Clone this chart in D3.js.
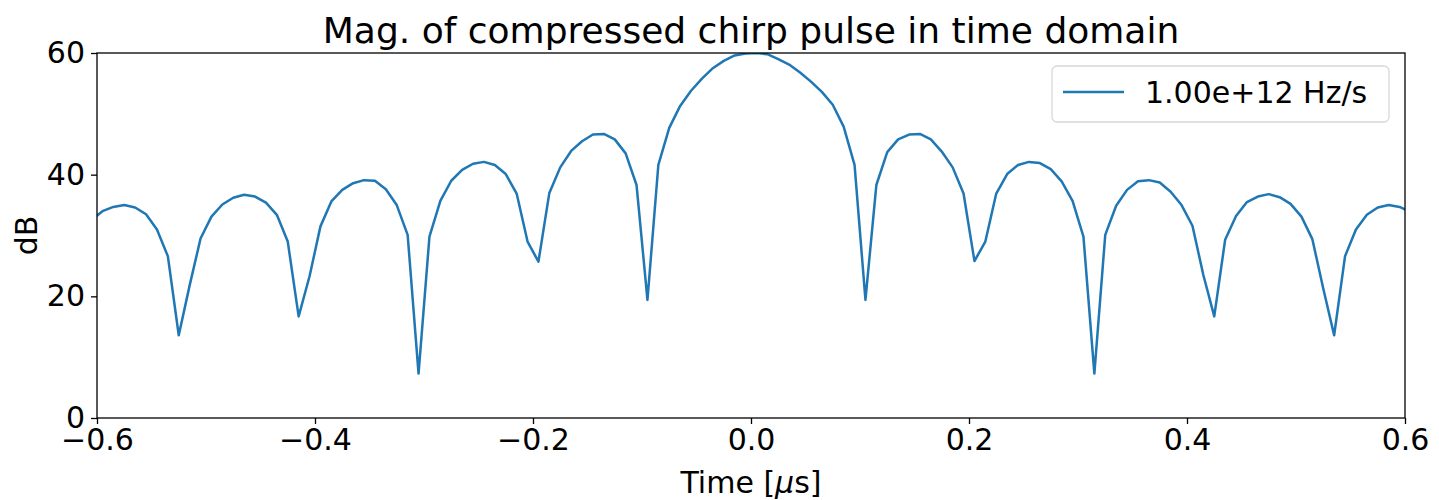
<!DOCTYPE html>
<html>
<head>
<meta charset="utf-8">
<script src="https://cdn.jsdelivr.net/npm/d3@7"></script>
<style>
  html, body { margin: 0; padding: 0; background: #fff; }
  svg { display: block; font-family: "DejaVu Sans", sans-serif; }
</style>
</head>
<body>
<svg id="chart" width="1439" height="500"></svg>
<script>
// ---- data ----
const timeUs = [
  -0.605, -0.595, -0.585, -0.575, -0.565, -0.555, -0.545, -0.535, -0.525, -0.515,
  -0.505, -0.495, -0.485, -0.475, -0.465, -0.455, -0.445, -0.435, -0.425, -0.415,
  -0.405, -0.395, -0.385, -0.375, -0.365, -0.355, -0.345, -0.335, -0.325, -0.315,
  -0.305, -0.295, -0.285, -0.275, -0.265, -0.255, -0.245, -0.235, -0.225, -0.215,
  -0.205, -0.195, -0.185, -0.175, -0.165, -0.155, -0.145, -0.135, -0.125, -0.115,
  -0.105, -0.095, -0.085, -0.075, -0.065, -0.055, -0.045, -0.035, -0.025, -0.015,
  -0.005, 0.005, 0.015, 0.025, 0.035, 0.045, 0.055, 0.065, 0.075, 0.085,
  0.095, 0.105, 0.115, 0.125, 0.135, 0.145, 0.155, 0.165, 0.175, 0.185,
  0.195, 0.205, 0.215, 0.225, 0.235, 0.245, 0.255, 0.265, 0.275, 0.285,
  0.295, 0.305, 0.315, 0.325, 0.335, 0.345, 0.355, 0.365, 0.375, 0.385,
  0.395, 0.405, 0.415, 0.425, 0.435, 0.445, 0.455, 0.465, 0.475, 0.485,
  0.495, 0.505, 0.515, 0.525, 0.535, 0.545, 0.555, 0.565, 0.575, 0.585,
  0.595, 0.605
];
const magDb = [
  32.5, 34.0, 34.7, 35.0, 34.6, 33.5, 31.0, 26.6, 13.6, 21.8,
  29.5, 33.1, 35.1, 36.2, 36.7, 36.4, 35.4, 33.4, 29.0, 16.7,
  23.3, 31.5, 35.6, 37.5, 38.6, 39.1, 39.0, 37.6, 35.0, 30.1,
  7.3, 29.8, 35.7, 39.0, 40.8, 41.8, 42.1, 41.6, 40.1, 36.9,
  29.0, 25.7, 37.0, 41.2, 43.9, 45.5, 46.6, 46.7, 45.8, 43.5,
  38.3, 19.4, 41.6, 47.7, 51.3, 53.8, 55.8, 57.5, 58.7, 59.6,
  59.9, 60.0, 59.8, 59.0, 58.1, 56.8, 55.3, 53.6, 51.5, 47.9,
  41.6, 19.4, 38.3, 43.7, 45.8, 46.6, 46.7, 45.8, 43.8, 41.2,
  36.9, 25.8, 29.0, 36.9, 40.1, 41.6, 42.1, 41.9, 40.9, 38.9,
  35.7, 29.8, 7.3, 30.1, 34.9, 37.5, 38.9, 39.1, 38.7, 37.2,
  35.0, 31.6, 23.5, 16.7, 29.3, 33.2, 35.5, 36.4, 36.8, 36.3,
  35.2, 33.1, 29.4, 21.3, 13.6, 26.6, 31.0, 33.4, 34.6, 35.0,
  34.7, 33.9
];
const xTicks = [-0.6, -0.4, -0.2, 0.0, 0.2, 0.4, 0.6];
const yTicks = [0, 20, 40, 60];
const seriesLabel = "1.00e+12 Hz/s";
const titleText = "Mag. of compressed chirp pulse in time domain";

// ---- layout ----
const svg = d3.select("#chart");
const m = { left: 97, right: 1405, top: 53, bottom: 418 };
const x = d3.scaleLinear().domain([-0.6, 0.6]).range([m.left, m.right]);
const y = d3.scaleLinear().domain([0, 60]).range([m.bottom, m.top]);
const color = "#1f77b4";
const fmtX = d => (d < 0 ? "\u2212" : "") + Math.abs(d).toFixed(1);

svg.append("defs").append("clipPath").attr("id", "clip")
  .append("rect").attr("x", m.left).attr("y", m.top)
  .attr("width", m.right - m.left).attr("height", m.bottom - m.top);

// line
const pts = timeUs.map((t, i) => [t, magDb[i]]);
svg.append("path")
  .datum(pts)
  .attr("clip-path", "url(#clip)")
  .attr("fill", "none")
  .attr("stroke", color)
  .attr("stroke-width", 2.5)
  .attr("stroke-linejoin", "round")
  .attr("d", d3.line().x(d => x(d[0])).y(d => y(d[1])));

// axes
const xAxis = svg.append("g").attr("transform", `translate(0,${m.bottom})`)
  .call(d3.axisBottom(x).tickValues(xTicks).tickFormat(fmtX).tickSize(6).tickPadding(5));
const yAxis = svg.append("g").attr("transform", `translate(${m.left},0)`)
  .call(d3.axisLeft(y).tickValues(yTicks).tickFormat(d3.format("d")).tickSize(6).tickPadding(6));
[xAxis, yAxis].forEach(g => {
  g.select(".domain").remove();
  g.selectAll(".tick line").attr("stroke", "#000").attr("stroke-width", 1.3);
  g.selectAll(".tick text").attr("fill", "#000")
    .style("font-family", "DejaVu Sans").style("font-size", "30px");
});

// frame
svg.append("rect").attr("x", m.left).attr("y", m.top)
  .attr("width", m.right - m.left).attr("height", m.bottom - m.top)
  .attr("fill", "none").attr("stroke", "#000").attr("stroke-width", 1.3);

// title
svg.append("text").attr("x", (m.left + m.right) / 2).attr("y", 43)
  .attr("text-anchor", "middle").style("font-size", "36px").attr("fill", "#000")
  .text(titleText);

// axis labels
const xl = svg.append("text").attr("x", (m.left + m.right) / 2).attr("y", 493)
  .attr("text-anchor", "middle").style("font-size", "30px").attr("fill", "#000");
xl.append("tspan").text("Time [");
xl.append("tspan").style("font-style", "italic").text("\u03bc");
xl.append("tspan").text("s]");

svg.append("text").attr("transform", `translate(37,${(m.top + m.bottom) / 2}) rotate(-90)`)
  .attr("text-anchor", "middle").style("font-size", "30px").attr("fill", "#000")
  .text("dB");

// legend
const lg = svg.append("g");
lg.append("rect").attr("x", 1052).attr("y", 66).attr("width", 337).attr("height", 56)
  .attr("rx", 5).attr("fill", "#fff").attr("fill-opacity", 0.8)
  .attr("stroke", "#d8d8d8").attr("stroke-width", 1.3);
lg.append("line").attr("x1", 1063).attr("x2", 1124).attr("y1", 92).attr("y2", 92)
  .attr("stroke", color).attr("stroke-width", 2.5);
lg.append("text").attr("x", 1145).attr("y", 103).style("font-size", "30px")
  .attr("fill", "#000").text(seriesLabel);
</script>
</body>
</html>
